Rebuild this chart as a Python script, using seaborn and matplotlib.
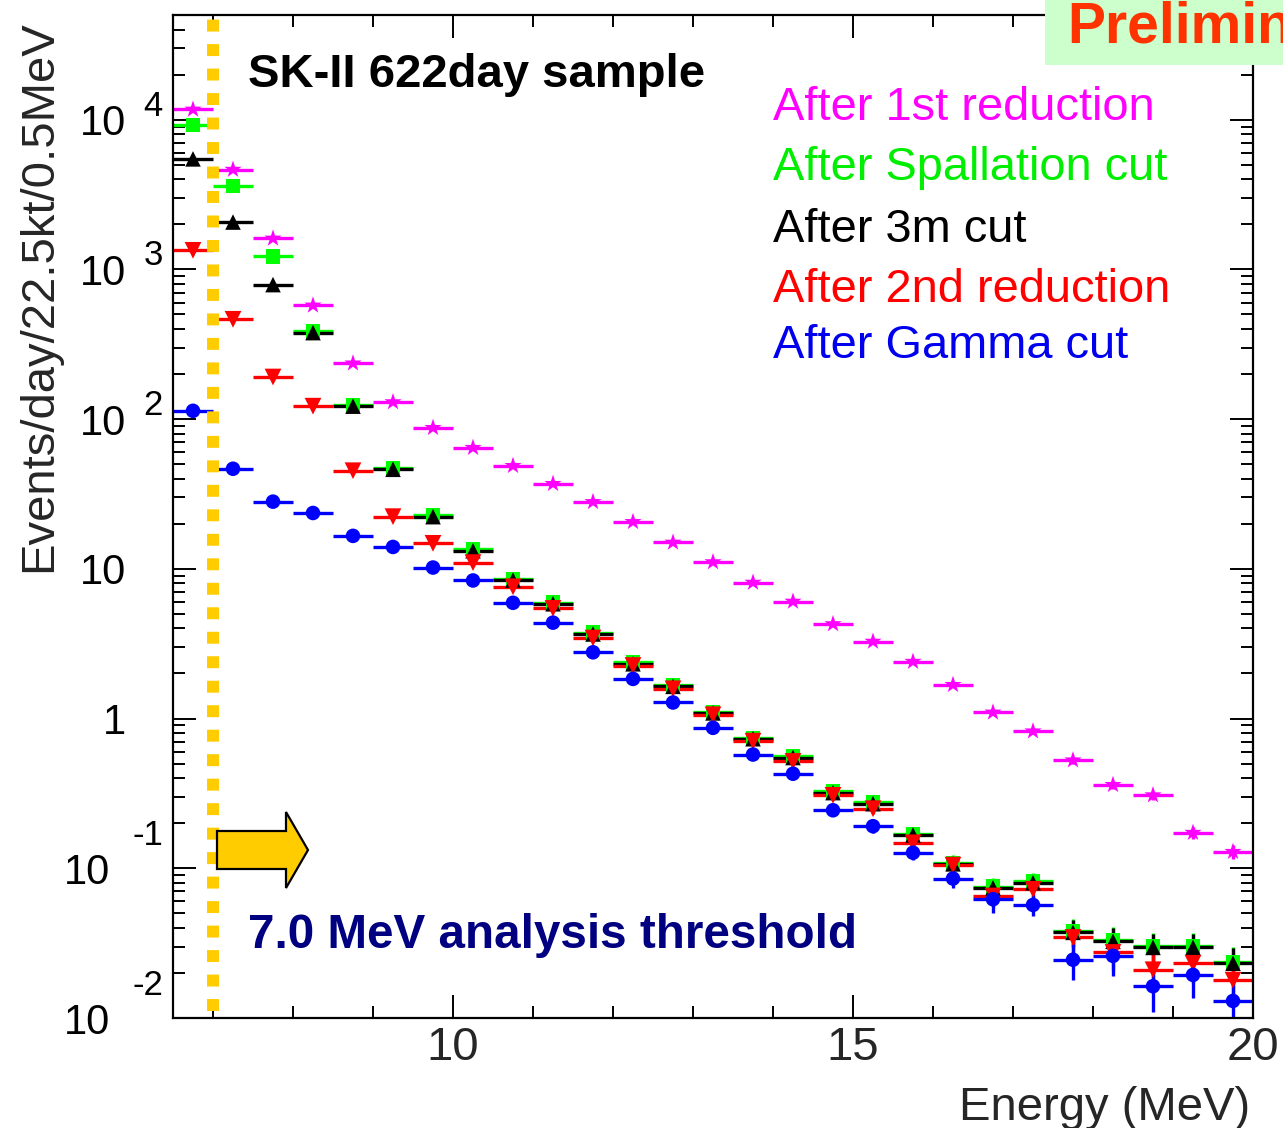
import numpy as np
import pandas as pd
import matplotlib
matplotlib.use("Agg")
import matplotlib.pyplot as plt
import seaborn as sns
from matplotlib.ticker import FixedLocator, MultipleLocator, LogLocator, NullFormatter
from matplotlib.patches import Polygon, Rectangle
from matplotlib import transforms

# ---------------- data ----------------
energy = [6.75, 7.25, 7.75, 8.25, 8.75, 9.25, 9.75, 10.25, 10.75, 11.25, 11.75,
          12.25, 12.75, 13.25, 13.75, 14.25, 14.75, 15.25, 15.75, 16.25, 16.75,
          17.25, 17.75, 18.25, 18.75, 19.25, 19.75]
bin_half_width = 0.25
threshold = 7.0

after_1st = [11700, 4640, 1610, 575, 236, 130, 87.5, 64.4, 48.8, 37.0, 28.0, 20.6,
             15.0, 11.1, 8.1, 6.05, 4.28, 3.27, 2.40, 1.68, 1.10, 0.823, 0.527,
             0.361, 0.308, 0.173, 0.129]
after_1st_err = [4.3, 2.7, 1.6, 0.96, 0.62, 0.46, 0.375, 0.32, 0.28, 0.24, 0.21, 0.18,
                 0.155, 0.134, 0.114, 0.099, 0.083, 0.073, 0.062, 0.052, 0.042, 0.036,
                 0.029, 0.024, 0.022, 0.017, 0.014]

after_spall = [9260, 3610, 1220, 385, 124, 47.0, 22.8, 13.5, 8.6, 5.95, 3.75, 2.37,
               1.67, 1.11, 0.745, 0.56, 0.326, 0.275, 0.170, 0.109, 0.0755, 0.082,
               0.038, 0.0332, 0.0302, 0.0302, 0.0237]
after_spall_err = [3.86, 2.41, 1.40, 0.79, 0.45, 0.27, 0.19, 0.147, 0.118, 0.098, 0.078,
                   0.062, 0.052, 0.042, 0.035, 0.030, 0.023, 0.021, 0.017, 0.013, 0.011,
                   0.0115, 0.0078, 0.0073, 0.0070, 0.0070, 0.0062]

after_3m = [5470, 2070, 791, 378, 122, 46.2, 22.3, 13.2, 8.41, 5.84, 3.67, 2.32, 1.64,
            1.09, 0.733, 0.549, 0.320, 0.270, 0.167, 0.107, 0.074, 0.080, 0.0373,
            0.0325, 0.0296, 0.0296, 0.0232]
after_3m_err = [2.97, 1.82, 1.13, 0.78, 0.44, 0.27, 0.19, 0.146, 0.116, 0.097, 0.077,
                0.061, 0.051, 0.042, 0.034, 0.030, 0.023, 0.021, 0.016, 0.013, 0.011,
                0.011, 0.0077, 0.0072, 0.0069, 0.0069, 0.0061]

after_2nd = [1340, 464, 191, 122, 45.2, 22.3, 14.8, 11.0, 7.59, 5.44, 3.45, 2.26, 1.58,
             1.06, 0.706, 0.517, 0.307, 0.250, 0.148, 0.105, 0.0653, 0.0724, 0.0345,
             0.0274, 0.0210, 0.0232, 0.0179]
after_2nd_err = [1.47, 0.86, 0.55, 0.44, 0.27, 0.19, 0.154, 0.133, 0.110, 0.094, 0.074,
                 0.060, 0.050, 0.041, 0.034, 0.029, 0.022, 0.020, 0.015, 0.013, 0.010,
                 0.011, 0.0075, 0.0066, 0.0058, 0.0061, 0.0054]

after_gamma = [113.6, 46.6, 28.1, 23.6, 16.6, 14.0, 10.2, 8.36, 5.93, 4.37, 2.77, 1.84,
               1.28, 0.867, 0.575, 0.428, 0.244, 0.191, 0.127, 0.0854, 0.0621, 0.0569,
               0.0245, 0.0260, 0.0163, 0.0194, 0.0130]
after_gamma_err = [0.427, 0.274, 0.213, 0.195, 0.163, 0.150, 0.128, 0.116, 0.098, 0.084,
                   0.067, 0.054, 0.045, 0.037, 0.030, 0.026, 0.020, 0.018, 0.014, 0.011,
                   0.012, 0.0092, 0.0066, 0.0068, 0.0053, 0.0058, 0.0046]

stages = ["After 1st reduction", "After Spallation cut", "After 3m cut",
          "After 2nd reduction", "After Gamma cut"]
series = [after_1st, after_spall, after_3m, after_2nd, after_gamma]
series_err = [after_1st_err, after_spall_err, after_3m_err, after_2nd_err, after_gamma_err]

ytick_values = [1e-2, 1e-1, 1, 10, 1e2, 1e3, 1e4]
ytick_base = ["10", "10", "1", "10", "10", "10", "10"]
ytick_exp = ["-2", "-1", "", "", "2", "3", "4"]
xtick_values = [10, 15, 20]

# ---------------- styles ----------------
colors = {stages[0]: "#FF00FF", stages[1]: "#00FF00", stages[2]: "#000000",
          stages[3]: "#FF0000", stages[4]: "#0000FF"}
text_colors = {stages[0]: "#FF00FF", stages[1]: "#00EE00", stages[2]: "#000000",
               stages[3]: "#FF0000", stages[4]: "#0000EE"}
markers = {stages[0]: "*", stages[1]: "s", stages[2]: "^", stages[3]: "v", stages[4]: "o"}
msizes = {stages[0]: 170, stages[1]: 105, stages[2]: 125, stages[3]: 145, stages[4]: 110}

df = pd.DataFrame({
    "energy": np.tile(energy, len(stages)),
    "rate": np.concatenate([np.asarray(s, float) for s in series]),
    "stage": np.repeat(stages, len(energy)),
})

sns.set_style("ticks")
plt.rcParams["font.family"] = ["Liberation Sans", "DejaVu Sans"]

W, H = 1283, 1128
fig = plt.figure(figsize=(W / 100, H / 100), dpi=100)
AX_L, AX_R, AX_T, AX_B = 173, 1253, 15, 1018
ax = fig.add_axes([AX_L / W, 1 - AX_B / H, (AX_R - AX_L) / W, (AX_B - AX_T) / H])


def fx(px):
    return (px - AX_L) / (AX_R - AX_L)


def fy(py):
    return (AX_B - py) / (AX_B - AX_T)


# error bars
for st, vals, errs in zip(stages, series, series_err):
    ax.errorbar(energy, vals, xerr=bin_half_width, yerr=errs, fmt="none",
                ecolor=colors[st], elinewidth=2.4, capsize=0, zorder=2)

sns.scatterplot(data=df, x="energy", y="rate", hue="stage", style="stage",
                size="stage", hue_order=stages, style_order=stages,
                size_order=stages, palette=colors, markers=markers, sizes=msizes,
                linewidth=0, legend=False, ax=ax, zorder=3)

ax.set_xscale("linear")
ax.set_yscale("log")
ax.set_xlim(6.5, 20)
ax.set_ylim(1e-2, 5e4)

# threshold line
ax.axvline(threshold, ymin=fy(1011), ymax=1.0, color="#FFCC00", lw=8.6,
           linestyle=(0, (1.0, 1.05)), dash_capstyle="butt", zorder=4)

# arrow
arrow_pts = [(fx(217), fy(869)), (fx(286), fy(869)), (fx(286), fy(888)),
             (fx(308), fy(850)), (fx(286), fy(812)), (fx(286), fy(831)),
             (fx(217), fy(831))]
ax.add_patch(Polygon(arrow_pts, closed=True, transform=ax.transAxes,
                     facecolor="#FFCC00", edgecolor="black", lw=1.6, zorder=5))

# axes styling
for sp in ax.spines.values():
    sp.set_linewidth(1.6)
    sp.set_color("black")
    sp.set_visible(True)
ax.xaxis.set_major_locator(FixedLocator(xtick_values))
ax.xaxis.set_minor_locator(MultipleLocator(1))
ax.yaxis.set_major_locator(FixedLocator(ytick_values))
ax.yaxis.set_minor_locator(LogLocator(base=10, subs=np.arange(2, 10), numticks=30))
ax.yaxis.set_minor_formatter(NullFormatter())
ax.tick_params(which="both", direction="in", top=True, right=True, color="black",
               width=1.4)
ax.tick_params(which="major", length=16.5)
ax.tick_params(which="minor", length=8.6)
ax.tick_params(axis="y", which="both", labelleft=False)
ax.tick_params(axis="x", which="major", labelsize=34, pad=6)
ax.set_xticklabels([str(v) for v in xtick_values])

# y tick labels (ROOT style 10^n)
ytr = ax.get_yaxis_transform()
for v, b, e in zip(ytick_values, ytick_base, ytick_exp):
    neg = e.startswith("-")
    bx = fx(110) if neg else fx(126)
    ax.text(bx, v, b, transform=ytr, ha="right", va="center_baseline",
            fontsize=30, color="black", clip_on=False)
    if e:
        off = 36 if neg else 17
        etr = transforms.offset_copy(ytr, fig=fig, x=0, y=off, units="dots")
        ax.text(fx(163), v, e, transform=etr, ha="right", va="center_baseline",
                fontsize=25, color="black", clip_on=False)

ax.set_xlabel("Energy (MeV)", fontsize=34, loc="right")
ax.xaxis.label.set_va("baseline")
ax.xaxis.set_label_coords(fx(1250), fy(1120))
ax.set_ylabel("Events/day/22.5kt/0.5MeV", fontsize=34, loc="top")
ax.yaxis.label.set_va("baseline")
ax.yaxis.set_label_coords(fx(51), fy(20))

# texts
ax.text(fx(248), fy(87), "SK-II 622day sample", transform=ax.transAxes,
        fontsize=34, fontweight="bold", color="black", ha="left", va="baseline")
ax.text(fx(248), fy(948), "7.0 MeV analysis threshold", transform=ax.transAxes,
        fontsize=34.3, fontweight="bold", color="#000080", ha="left", va="baseline")
legend_baselines = [119.5, 179.5, 241.5, 301.5, 358.5]
for st, yb in zip(stages, legend_baselines):
    ax.text(fx(773), fy(yb), st, transform=ax.transAxes, fontsize=33.8,
            color=text_colors[st], ha="left", va="baseline")

# Preliminary badge (cut at the right edge, as in the original slide)
fig.add_artist(Rectangle((1045 / W, 1 - 65 / H), (W - 1045) / W + 0.01, 65 / H + 0.01,
                         transform=fig.transFigure, facecolor="#CCFFCC",
                         edgecolor="none", zorder=10))
fig.text(1067 / W, 1 - 43 / H, "Preliminary", fontsize=41, fontweight="bold",
         color="#FF3300", ha="left", va="baseline", zorder=11)

fig.savefig("out.png", dpi=100, facecolor="white")
